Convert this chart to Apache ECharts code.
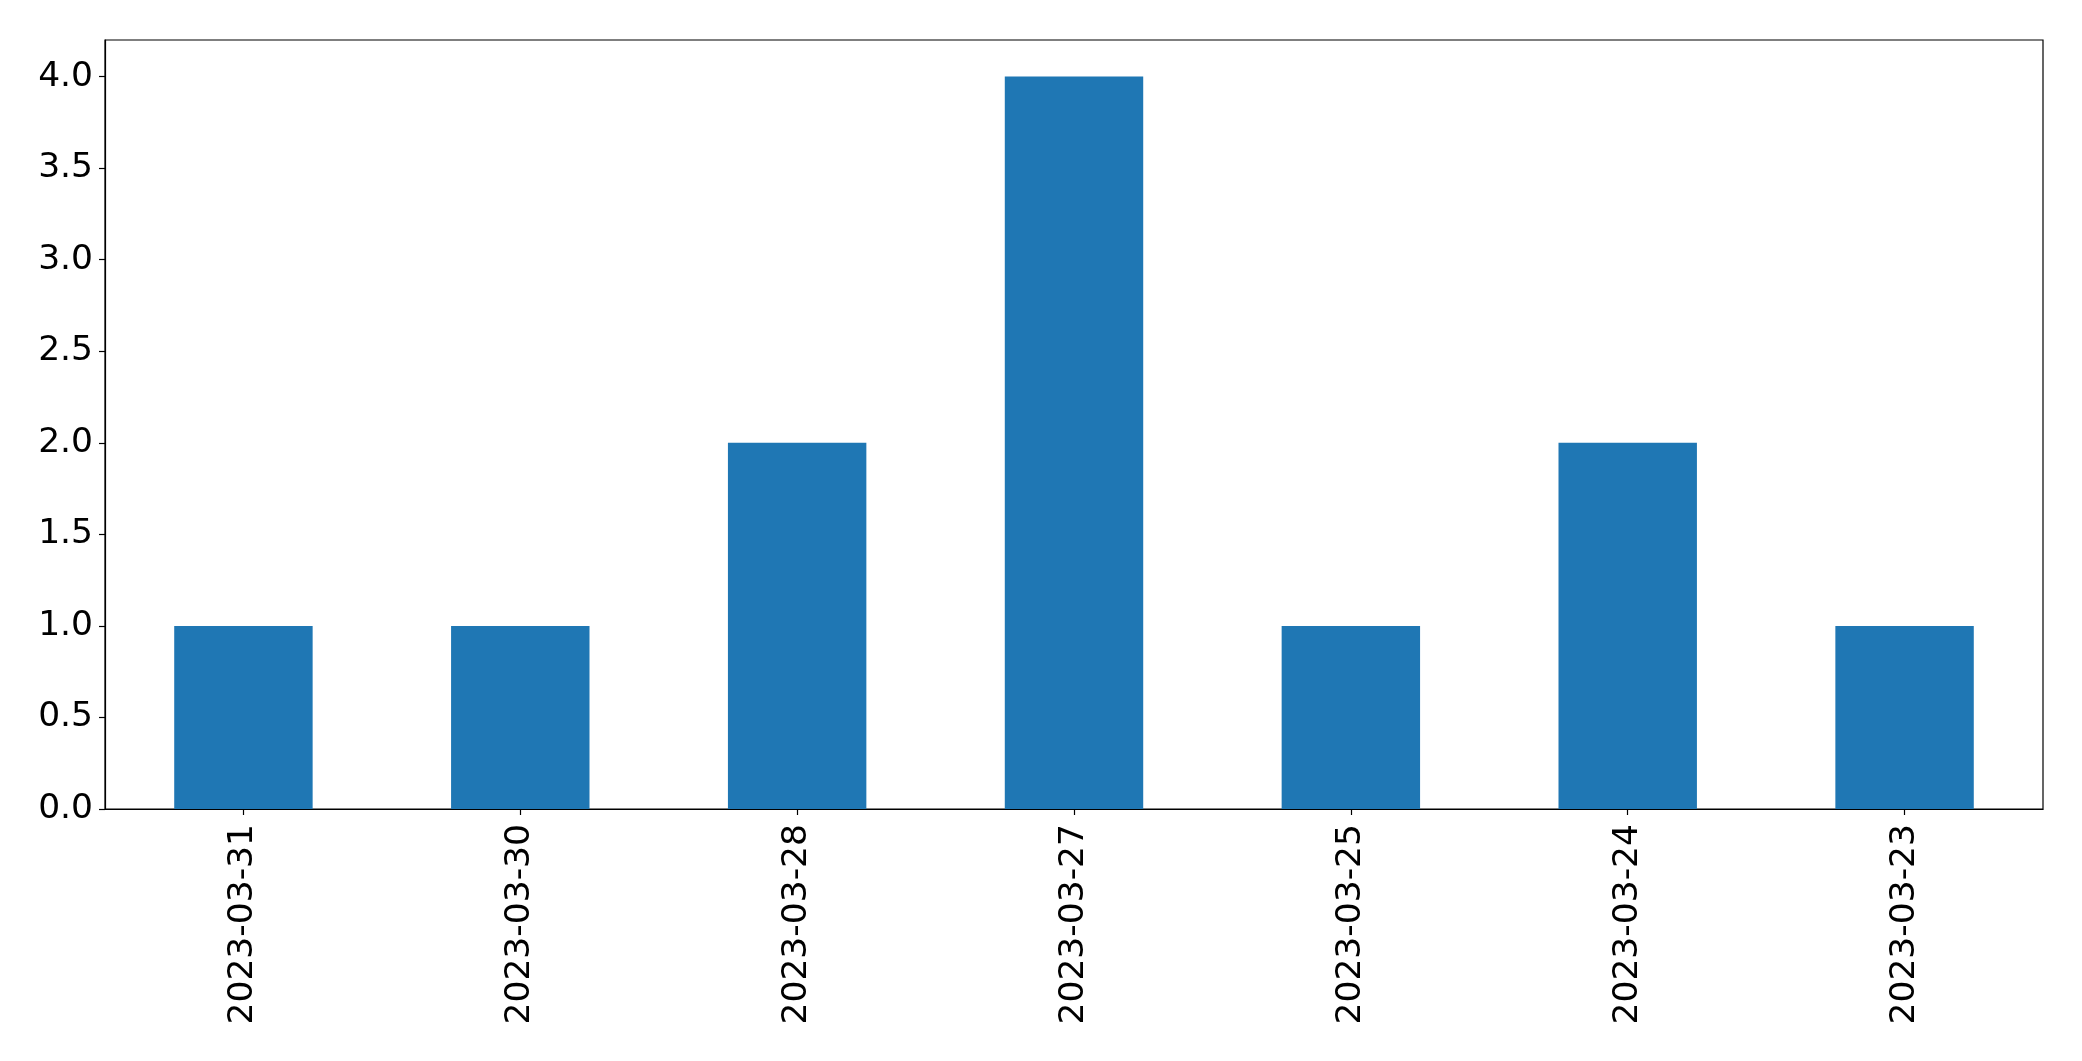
<!DOCTYPE html>
<html>
<head>
<meta charset="utf-8">
<script src="https://cdn.jsdelivr.net/npm/echarts@6/dist/echarts.min.js"></script>
<style>
html,body{margin:0;padding:0;background:#fff;}
#chart{width:2082px;height:1061px;}
</style>
</head>
<body>
<div id="chart"></div>
<script>
const categories = ['2023-03-31','2023-03-30','2023-03-28','2023-03-27','2023-03-25','2023-03-24','2023-03-23'];
const counts = [1, 1, 2, 4, 1, 2, 1];
const yTicks = [0, 0.5, 1.0, 1.5, 2.0, 2.5, 3.0, 3.5, 4.0];

const chart = echarts.init(document.getElementById('chart'));
const font = 'DejaVu Sans';
chart.setOption({
  animation: false,
  backgroundColor: '#fff',
  grid: {left: 105, right: 39, top: 40, bottom: 252, show: true, borderColor: '#000', borderWidth: 1.2, backgroundColor: 'transparent'},
  xAxis: {
    type: 'category',
    data: categories,
    axisLine: {show: true, lineStyle: {color: '#000', width: 1.2}},
    axisTick: {show: true, alignWithLabel: true, length: 6, lineStyle: {color: '#000', width: 1.2}},
    axisLabel: {rotate: 90, color: '#000', fontFamily: font, fontSize: 34.5, margin: 15, interval: 0},
    splitLine: {show: false}
  },
  yAxis: {
    type: 'value',
    min: 0, max: 4.2, interval: 0.5,
    axisLine: {show: true, lineStyle: {color: '#000', width: 1.2}},
    axisTick: {show: true, length: 6, lineStyle: {color: '#000', width: 1.2}, customValues: yTicks},
    axisLabel: {color: '#000', fontFamily: font, fontSize: 34.5, margin: 12, customValues: yTicks,
      formatter: v => Number(v).toFixed(1)},
    splitLine: {show: false}
  },
  series: [{
    type: 'bar',
    data: counts,
    barWidth: '50%',
    itemStyle: {color: '#1f77b4'}
  }]
});
</script>
</body>
</html>
